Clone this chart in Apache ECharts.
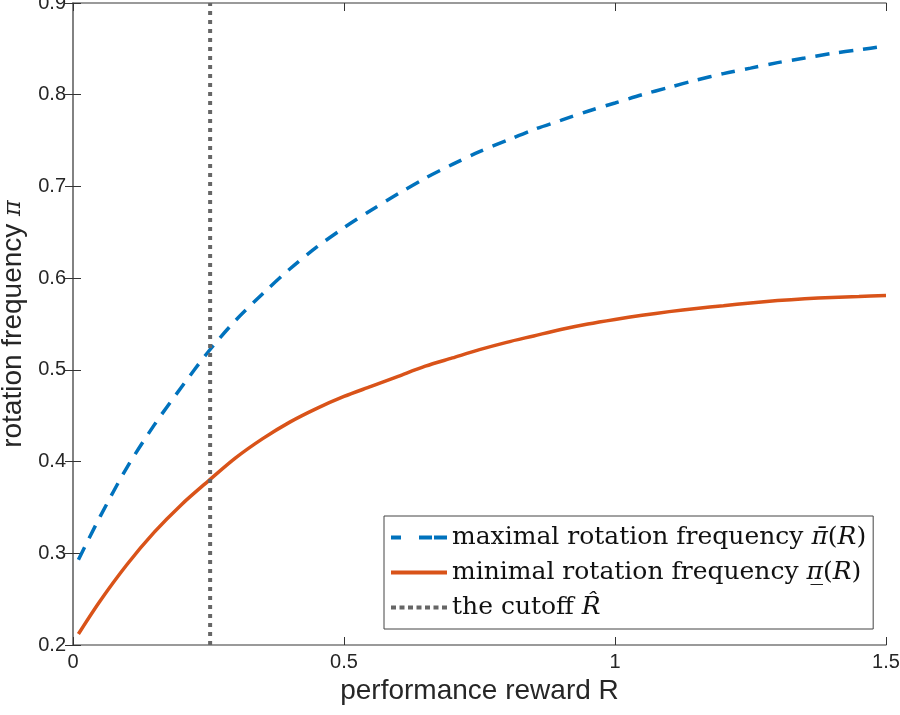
<!DOCTYPE html>
<html>
<head>
<meta charset="utf-8">
<script src="https://cdn.jsdelivr.net/npm/echarts@6/dist/echarts.min.js"></script>
<style>html,body{margin:0;padding:0;background:#fff}#c{width:900px;height:715px}</style>
</head>
<body>
<div id="c"></div>
<script>
var rewardR = [0.01, 0.05, 0.10, 0.15, 0.20, 0.25, 0.30, 0.35, 0.40, 0.45, 0.50, 0.55, 0.60, 0.65, 0.70, 0.75, 0.80, 0.85, 0.90, 0.95, 1.00, 1.05, 1.10, 1.15, 1.20, 1.25, 1.30, 1.35, 1.40, 1.45, 1.50];
var maxFreq = [0.293, 0.340, 0.394, 0.440, 0.481, 0.520, 0.554, 0.583, 0.610, 0.634, 0.655, 0.674, 0.692, 0.709, 0.724, 0.738, 0.750, 0.762, 0.772, 0.782, 0.791, 0.800, 0.808, 0.816, 0.823, 0.829, 0.835, 0.840, 0.845, 0.849, 0.853];
var minFreq = [0.212, 0.248, 0.288, 0.323, 0.353, 0.379, 0.404, 0.425, 0.443, 0.458, 0.471, 0.482, 0.493, 0.504, 0.513, 0.522, 0.530, 0.537, 0.544, 0.550, 0.555, 0.5595, 0.5635, 0.567, 0.570, 0.573, 0.5755, 0.5775, 0.579, 0.580, 0.581];
var cutoffR = 0.253;
var cutoffRange = [0.2, 0.9];
var seriesNames = ['maximal rotation frequency', 'minimal rotation frequency', 'the cutoff'];

function pairs(xs, ys) { return xs.map(function (x, i) { return [x, ys[i]]; }); }

var axisColor = '#7a7a7a';
var labelColor = '#262626';
var chart = echarts.init(document.getElementById('c'));
chart.setOption({
  animation: false,
  backgroundColor: '#fff',
  grid: { left: 73, right: 14, top: 3, bottom: 70, containLabel: false, outerBoundsMode: 'none' },
  xAxis: [{
    type: 'value', min: 0, max: 1.5, interval: 0.5, position: 'bottom',
    name: 'performance reward R', nameLocation: 'middle', nameGap: 32,
    nameTextStyle: { fontFamily: 'Liberation Sans, Arial', fontSize: 28, color: labelColor },
    axisLine: { show: true, lineStyle: { color: axisColor, width: 1.5 } },
    axisTick: { show: true, inside: true, length: 8, lineStyle: { color: '#333' } },
    axisLabel: { fontFamily: 'Liberation Sans, Arial', fontSize: 20, color: labelColor, margin: 7 },
    splitLine: { show: false }
  }, {
    type: 'value', min: 0, max: 1.5, interval: 0.5, position: 'top',
    axisLine: { show: true, lineStyle: { color: axisColor, width: 1.5 } },
    axisTick: { show: true, inside: true, length: 8, lineStyle: { color: '#333' } },
    axisLabel: { show: false }, splitLine: { show: false }
  }],
  yAxis: [{
    type: 'value', min: 0.2, max: 0.9, interval: 0.1, position: 'left',
    name: 'rotation frequency {pi|π}', nameLocation: 'middle', nameGap: 40,
    nameTextStyle: { fontFamily: 'Liberation Sans, Arial', fontSize: 28, color: labelColor,
      rich: { pi: { fontFamily: 'DejaVu Serif', fontStyle: 'italic', fontSize: 24, color: labelColor } } },
    axisLine: { show: true, lineStyle: { color: axisColor, width: 1.5 } },
    axisTick: { show: true, inside: true, length: 8, lineStyle: { color: '#333' } },
    axisLabel: { fontFamily: 'Liberation Sans, Arial', fontSize: 20, color: labelColor, margin: 7,
      formatter: function (v) { return v.toFixed(1); } },
    splitLine: { show: false }
  }, {
    type: 'value', min: 0.2, max: 0.9, interval: 0.1, position: 'right',
    axisLine: { show: true, lineStyle: { color: axisColor, width: 1.5 } },
    axisTick: { show: true, inside: true, length: 8, lineStyle: { color: '#333' } },
    axisLabel: { show: false }, splitLine: { show: false }
  }],
  legend: {
    orient: 'vertical', left: 384, top: 516,
    backgroundColor: '#fff', borderColor: '#444', borderWidth: 1, borderRadius: 0,
    padding: [7, 7, 7, 7], itemGap: 6, itemWidth: 56, itemHeight: 4, symbolKeepAspect: false,
    data: [
      { name: seriesNames[0], icon: 'path://M0,0h10v4h-10z M28,0h13v4h-13z M43,0h13v4h-13z', itemStyle: { color: '#0072BD' } },
      { name: seriesNames[1], icon: 'path://M0,0h56v4h-56z', itemStyle: { color: '#D95319' } },
      { name: seriesNames[2], icon: 'path://M0,0h5v4h-5z M8.5,0h5v4h-5z M17,0h5v4h-5z M25.5,0h5v4h-5z M34,0h5v4h-5z M42.5,0h5v4h-5z M51,0h5v4h-5z', itemStyle: { color: '#666' } }
    ],
    formatter: function (name) {
      if (name === seriesNames[0]) return name + ' {m|π̄}({i|R})';
      if (name === seriesNames[1]) return name + ' {m|π̲}({i|R})';
      return name + ' {i|R̂}';
    },
    textStyle: {
      fontFamily: 'DejaVu Serif', fontSize: 25, color: '#111', lineHeight: 29,
      rich: {
        m: { fontFamily: 'DejaVu Serif', fontStyle: 'italic', fontSize: 25, color: '#111' },
        i: { fontFamily: 'DejaVu Serif', fontStyle: 'italic', fontSize: 25, color: '#111' }
      }
    }
  },
  series: [{
    name: seriesNames[0], type: 'line', smooth: 0.3, showSymbol: false, symbol: 'none',
    data: pairs(rewardR, maxFreq),
    lineStyle: { color: '#0072BD', width: 3.5, type: [14, 10] },
    itemStyle: { color: '#0072BD' }
  }, {
    name: seriesNames[1], type: 'line', smooth: 0.3, showSymbol: false, symbol: 'none',
    data: pairs(rewardR, minFreq),
    lineStyle: { color: '#D95319', width: 3.5 },
    itemStyle: { color: '#D95319' }
  }, {
    name: seriesNames[2], type: 'line', showSymbol: false, symbol: 'none',
    data: [[cutoffR, cutoffRange[0]], [cutoffR, cutoffRange[1]]],
    lineStyle: { color: '#666', width: 4, type: [4, 5] },
    itemStyle: { color: '#666' }
  }]
});
</script>
</body>
</html>
